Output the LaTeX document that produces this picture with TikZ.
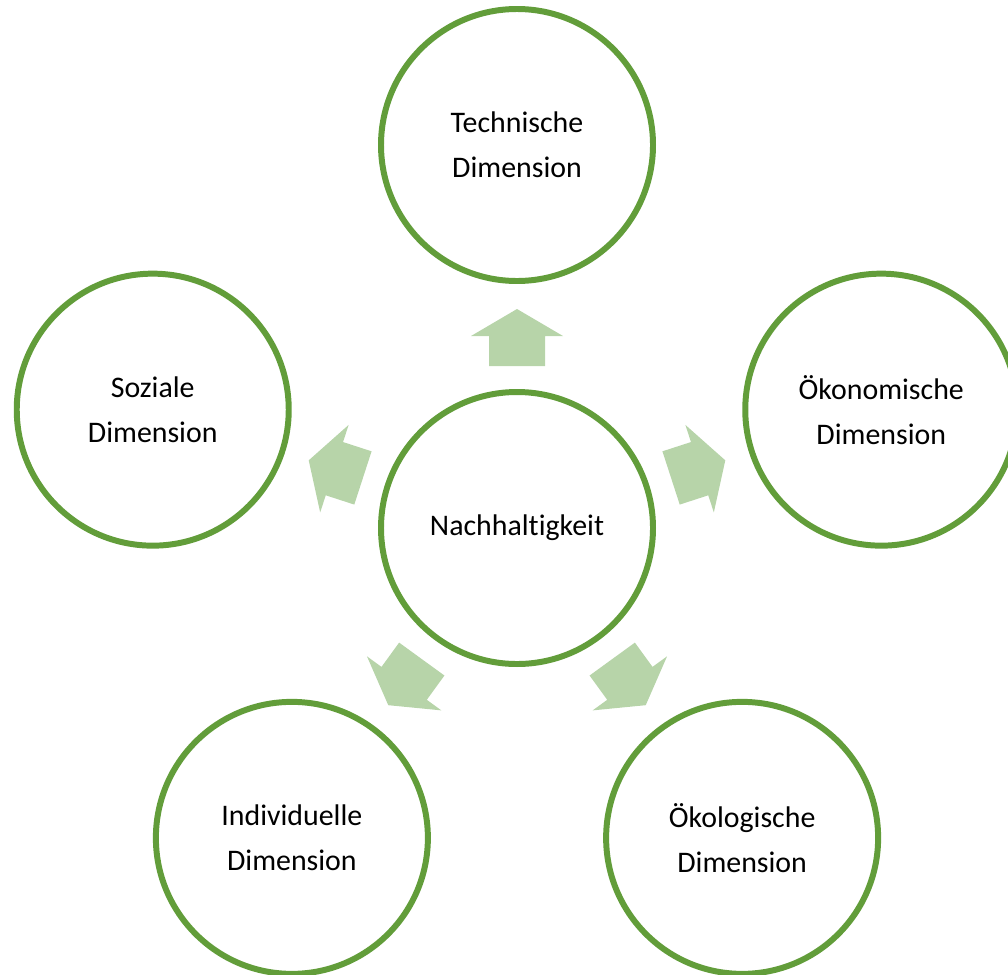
\documentclass[tikz,border=0pt]{standalone}
\usepackage{fontspec}
\setmainfont[RawFeature={-liga;-calt;-clig}]{Carlito}
\usepackage{tikz}
\usetikzlibrary{positioning}
\usetikzlibrary{calc}

\definecolor{ringgreen}{RGB}{98,157,58}
\definecolor{arrowgreen}{RGB}{183,212,169}

\tikzset{
    dim/.style={circle, draw=ringgreen, line width=3.4pt, fill=white,
        minimum size=5.44cm, inner sep=0pt, align=center,
        font=\fontsize{17}{25.6}\selectfont},
    blockarrow/.style={fill=arrowgreen, draw=none}
}

\begin{document}
\begin{tikzpicture}
    \clip (0,0) rectangle (20.16,-19.48);

    % center circle
    \node[dim] (hub) at (10.34,-10.56) {Nachhaltigkeit};

    % the five dimensions
    \node[dim] (tech)   at ($(hub)+(90:7.66)$)  {Technische\\Dimension};
    \node[dim] (sozial) at ($(hub)+(162:7.66)$) {Soziale\\Dimension};
    \node[dim] (indiv)  at ($(hub)+(234:7.66)$) {Individuelle\\Dimension};
    \node[dim] (oekol)  at ($(hub)+(306:7.66)$) {Ökologische\\Dimension};
    \node[dim] (oekon)  at ($(hub)+(18:7.66)$)  {Ökonomische\\Dimension};

    % block arrows
    \foreach \a in {90,162,234,306,18} {
        \begin{scope}[shift={(hub.center)}, rotate=\a]
            \fill[blockarrow] (3.24,-0.56) -- (3.84,-0.56) -- (3.84,-0.92)
                -- (4.38,0) -- (3.84,0.92) -- (3.84,0.56) -- (3.24,0.56) -- cycle;
        \end{scope}
    }
\end{tikzpicture}
\end{document}
